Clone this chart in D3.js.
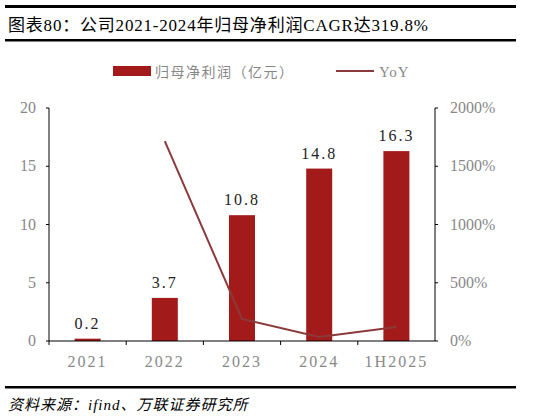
<!DOCTYPE html><html><head><meta charset="utf-8"><script src="https://cdn.jsdelivr.net/npm/d3@7"></script>
<style>body{margin:0;background:#fff}</style></head><body><svg id="c" width="535" height="418"></svg>
<script>
const categories=["2021","2022","2023","2024","1H2025"];
const profit=[0.2,3.7,10.8,14.8,16.3];
const yoy=[null,1715,190,35,120];
const leftTicks=[0,5,10,15,20];
const rightTicks=[0,500,1000,1500,2000];
const svg=d3.select("#c");
const F="'Liberation Serif','Noto Sans CJK SC',serif";
const x=d3.scaleBand().domain(categories).range([49,435]);
const y=d3.scaleLinear().domain([0,20]).range([341,108]);
const y2=d3.scaleLinear().domain([0,2000]).range([341,108]);
svg.append("rect").attr("x",5).attr("y",5).attr("width",511).attr("height",3).attr("fill","#000");
svg.append("rect").attr("x",5).attr("y",39).attr("width",511).attr("height",2.5).attr("fill","#000");
svg.append("text").attr("x",8).attr("y",31).attr("font-family",F).attr("font-size",17).attr("letter-spacing",0.8).text("图表80：公司2021-2024年归母净利润CAGR达319.8%");
svg.append("rect").attr("x",113).attr("y",66).attr("width",38).attr("height",10).attr("fill","#A31A1A");
svg.append("text").attr("x",155).attr("y",77).attr("font-family",F).attr("font-size",14).attr("letter-spacing",1.5).attr("fill","#888").text("归母净利润（亿元）");
svg.append("line").attr("x1",336).attr("x2",374).attr("y1",71).attr("y2",71).attr("stroke","#8B3A3A").attr("stroke-width",2);
svg.append("text").attr("x",379).attr("y",77).attr("font-family",F).attr("font-size",15).attr("letter-spacing",1).attr("fill","#888").text("YoY");
svg.selectAll(".b").data(profit).join("rect").attr("x",(d,i)=>x(categories[i])+x.bandwidth()/2-13).attr("width",26)
 .attr("y",d=>y(d)).attr("height",d=>y(0)-y(d)).attr("fill","#A31A1A");
svg.selectAll(".v").data(profit).join("text").attr("x",(d,i)=>x(categories[i])+x.bandwidth()/2).attr("y",d=>y(d)-10)
 .attr("text-anchor","middle").attr("font-family",F).attr("font-size",16).attr("letter-spacing",2).attr("fill","#222").text(d=>d.toFixed(1));
const pts=yoy.map((v,i)=>[x(categories[i])+x.bandwidth()/2,v]).filter(p=>p[1]!=null);
svg.append("path").attr("d",d3.line().x(p=>p[0]).y(p=>y2(p[1]))(pts)).attr("fill","none").attr("stroke","#8B3A3A").attr("stroke-width",2);
const g=svg.append("g").attr("font-family",F);
g.append("line").attr("x1",49).attr("x2",49).attr("y1",108).attr("y2",341).attr("stroke","#000");
g.append("line").attr("x1",435).attr("x2",435).attr("y1",108).attr("y2",341).attr("stroke","#000");
g.append("line").attr("x1",49).attr("x2",435).attr("y1",341).attr("y2",341).attr("stroke","#000");
leftTicks.forEach(t=>{g.append("line").attr("x1",46).attr("x2",49).attr("y1",y(t)).attr("y2",y(t)).attr("stroke","#000");
 g.append("text").attr("x",36).attr("y",y(t)+5).attr("text-anchor","end").attr("font-size",16).attr("fill","#888").text(t);});
rightTicks.forEach(t=>{g.append("line").attr("x1",435).attr("x2",438).attr("y1",y2(t)).attr("y2",y2(t)).attr("stroke","#000");
 g.append("text").attr("x",450).attr("y",y2(t)+5).attr("font-size",16).attr("fill","#888").text(t+"%");});
categories.forEach((c,i)=>{g.append("line").attr("x1",x(c)).attr("x2",x(c)).attr("y1",341).attr("y2",345).attr("stroke","#000");
 g.append("text").attr("x",x(c)+x.bandwidth()/2).attr("y",367).attr("text-anchor","middle").attr("font-size",16).attr("fill","#888").attr("letter-spacing",2).text(c);});
svg.append("rect").attr("x",5).attr("y",386).attr("width",511).attr("height",2.5).attr("fill","#000");
svg.append("text").attr("x",8).attr("y",410).attr("font-family",F).attr("font-style","italic").attr("font-size",15).attr("letter-spacing",1).text("资料来源：ifind、万联证券研究所");
</script></body></html>
